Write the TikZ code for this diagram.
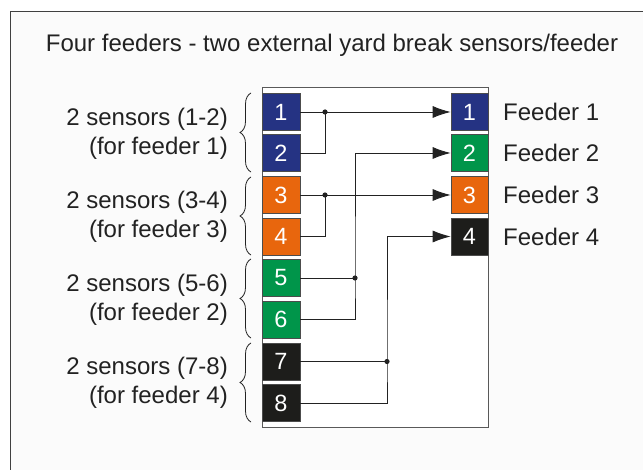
\documentclass[tikz,border=0pt]{standalone}
\usepackage{fontspec}
\setmainfont{Liberation Sans}
\usetikzlibrary{arrows.meta,decorations.pathreplacing}
\definecolor{nblue}{HTML}{253383}
\definecolor{norange}{HTML}{E8660D}
\definecolor{ngreen}{HTML}{00954A}
\definecolor{nblack}{HTML}{1D1D1B}
\definecolor{ink}{HTML}{222222}
\begin{document}
\begin{tikzpicture}[x=1pt,y=-1pt,
  txt/.style={text=ink,inner sep=0pt,font=\fontsize{24}{29}\selectfont},
  sq/.style={draw=black!70,line width=0.6pt,minimum width=38pt,minimum height=37pt,inner sep=0pt,text=white,font=\fontsize{23.5}{28}\selectfont},
  wire/.style={draw=ink,line width=0.9pt},
  arr/.style={wire,-{Latex[length=18pt,width=12pt]}},
  dot/.style={fill=ink},
  brc/.style={draw=ink,line width=0.8pt,decorate,decoration={brace,amplitude=11pt}}]
\useasboundingbox (0,0) rectangle (643,470);
\fill[black!1.5] (10,12) rectangle (643,470);
\draw[black!75,line width=1pt] (10,470) -- (10,12) -- (643,12);
\node[txt] (title) at (332,45) {Four feeders - two external yard break sensors/feeder};
\filldraw[fill=white,draw=black!65,line width=0.8pt] (262,87) rectangle (488,427);
% left sensor boxes
\node[sq,fill=nblue]   (l1) at (281,112)   {1};
\node[sq,fill=nblue]   (l2) at (281,153)   {2};
\node[sq,fill=norange] (l3) at (281,195)   {3};
\node[sq,fill=norange] (l4) at (281,236.5) {4};
\node[sq,fill=ngreen]  (l5) at (281,278)   {5};
\node[sq,fill=ngreen]  (l6) at (281,319.5) {6};
\node[sq,fill=nblack]  (l7) at (281,361.5) {7};
\node[sq,fill=nblack]  (l8) at (281,403)   {8};
% right feeder boxes
\node[sq,fill=nblue,minimum width=37pt]   (r1) at (469.5,112)   {1};
\node[sq,fill=ngreen,minimum width=37pt]  (r2) at (469.5,153)   {2};
\node[sq,fill=norange,minimum width=37pt] (r3) at (469.5,195)   {3};
\node[sq,fill=nblack,minimum width=37pt]  (r4) at (469.5,236.5) {4};
% feeder labels
\node[txt,anchor=west] (f1) at (503,112)   {Feeder 1};
\node[txt,anchor=west] (f2) at (503,153)   {Feeder 2};
\node[txt,anchor=west] (f3) at (503,195)   {Feeder 3};
\node[txt,anchor=west] (f4) at (503,236.5) {Feeder 4};
% group labels
\node[txt,anchor=east,align=right] (g1) at (228,133.5) {2 sensors (1-2)\\(for feeder 1)};
\node[txt,anchor=east,align=right] (g2) at (228,216.5) {2 sensors (3-4)\\(for feeder 3)};
\node[txt,anchor=east,align=right] (g3) at (228,300)   {2 sensors (5-6)\\(for feeder 2)};
\node[txt,anchor=east,align=right] (g4) at (228,383)   {2 sensors (7-8)\\(for feeder 4)};
% braces
\draw[brc] (251,172) -- (251,93);
\draw[brc] (251,255) -- (251,177);
\draw[brc] (251,338) -- (251,259);
\draw[brc] (251,422) -- (251,343);
% junctions
\coordinate (j1) at (325,112);
\coordinate (j2) at (325,195);
\coordinate (j3) at (355,278);
\coordinate (j4) at (387,361.5);
% connectors
\draw[arr] (l1.east) -- (r1.west);
\draw[wire] (l2.east) -| (j1);
\draw[arr] (l3.east) -- (r3.west);
\draw[wire] (l4.east) -| (j2);
\draw[wire] (l5.east) -- (j3);
\draw[arr] (l6.east) -| (j3) |- (r2.west);
\draw[wire] (l7.east) -- (j4);
\draw[arr] (l8.east) -| (j4) |- (r4.west);
\foreach \j in {j1,j2,j3,j4} \fill[dot] (\j) circle (2.6pt);
\end{tikzpicture}
\end{document}
